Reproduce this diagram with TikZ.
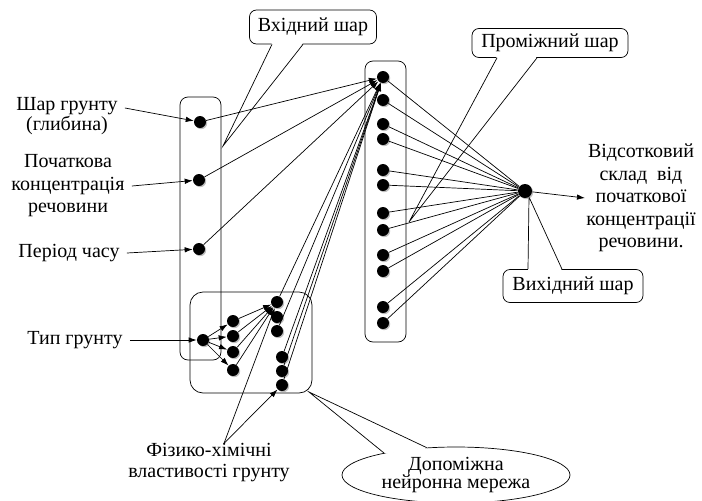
\documentclass[tikz,border=0pt]{standalone}
\usepackage{fontspec}
\setmainfont{Liberation Serif}
\usetikzlibrary{arrows.meta,shadows,shapes.geometric,calc}

\tikzset{
  neuron/.style={circle,fill=black,inner sep=0pt,minimum size=12pt,
    drop shadow={shadow xshift=1.2pt,shadow yshift=-1.2pt,fill=black!50}},
  arr/.style={-{Latex[length=8pt,width=5.5pt]}},
  layer/.style={draw,rounded corners=8pt},
  lbl/.style={align=center,inner xsep=7pt,inner ysep=0pt,font=\fontsize{20}{22.5}\selectfont},
  callout/.style={draw,fill=white,rounded corners=7pt,inner sep=0pt,font=\fontsize{20}{22.5}\selectfont},
}

\begin{document}
\begin{tikzpicture}[x=1pt,y=-1pt,line width=0.7pt]
\useasboundingbox (0,0) rectangle (702,501);

% callouts
\node[callout,minimum width=127pt,minimum height=34pt] (inlay) at (313,27) {Вхідний шар};
\coordinate (intip) at (223,146);
\fill[white] ([xshift=-41pt,yshift=1.5pt]inlay.south) -- (intip) -- ([xshift=-10pt,yshift=1.5pt]inlay.south) -- cycle;
\draw ([xshift=-41pt]inlay.south) -- (intip) -- ([xshift=-10pt]inlay.south);

\node[callout,minimum width=156pt,minimum height=29pt] (midlay) at (550,43) {Проміжний шар};
\coordinate (midtip) at (409,222);
\fill[white] ([xshift=-53pt,yshift=1.5pt]midlay.south) -- (midtip) -- ([xshift=-13pt,yshift=1.5pt]midlay.south) -- cycle;
\draw ([xshift=-53pt]midlay.south) -- (midtip) -- ([xshift=-13pt]midlay.south);

\node[callout,minimum width=140pt,minimum height=33pt] (outlay) at (573,286) {Вихідний шар};
\coordinate (outtip) at (529,197);
\fill[white] ([xshift=-45pt,yshift=-1.5pt]outlay.north) -- (outtip) -- ([xshift=-11pt,yshift=-1.5pt]outlay.north) -- cycle;
\draw ([xshift=-45pt]outlay.north) -- (outtip) -- ([xshift=-11pt]outlay.north);

\node[draw,fill=white,ellipse,minimum width=228pt,minimum height=56pt,inner sep=0pt,
  align=center,font=\fontsize{20}{18}\selectfont] (auxlay) at (456,475) {Допоміжна\\нейронна мережа};
\coordinate (auxtip) at (309,392);
\fill[white] ($(auxlay.163)!0.03!(auxlay.center)$) -- (auxtip) -- ($(auxlay.137)!0.03!(auxlay.center)$) -- cycle;
\draw (auxlay.163) -- (auxtip) -- (auxlay.137);

% layers
\draw[layer] (180,97) rectangle (221,360);
\draw[layer] (365,61) rectangle (406,342);
\draw[layer,rounded corners=13pt] (190,292) rectangle (312,393);

% neurons
\node[neuron] (in1) at (200,122) {};
\node[neuron] (in2) at (199,180) {};
\node[neuron] (in3) at (199,249) {};
\node[neuron] (in4) at (203,340) {};
\foreach \y [count=\i] in {321,336,352,370}
  \node[neuron] (s\i) at (233,\y) {};
\node[neuron] (p1) at (277,302) {};
\node[neuron] (p2) at (277,317) {};
\node[neuron] (p3) at (277,331) {};
\node[neuron] (p4) at (282,357) {};
\node[neuron] (p5) at (282,371) {};
\node[neuron] (p6) at (282,385) {};
\foreach \y [count=\i] in {77,100,124,139,170,185,213,230,255,271,307,323}
  \node[neuron] (h\i) at (383,\y) {};
\node[neuron,minimum size=14pt] (out) at (525,191) {};

% labels
\node[lbl,font=\fontsize{20}{18}\selectfont] (depth) at (67,116) {Шар грунту\\(глибина)};
\node[lbl] (conc) at (68,186) {Початкова\\концентрація\\речовини};
\node[lbl] (time) at (69,253) {Період часу};
\node[lbl] (soil) at (75,340) {Тип грунту};
\node[lbl,font=\fontsize{20}{21}\selectfont] (phys) at (209,463) {Фізико-хімічні\\властивості грунту};
\node[lbl,inner xsep=1pt] (res) at (641,198) {Відсотковий\\склад\ \ від\\початкової\\концентрації\\речовини.};

% connections
\draw[arr] ([yshift=8pt]depth.east) -- (in1);
\draw[arr] (conc.east) -- (in2);
\draw[arr] (time.east) -- (in3);
\draw[arr] (soil.east) -- (in4);
\foreach \i in {1,2,3}
  \draw[arr] (in\i) -- (h1);
\foreach \i in {1,...,4} {
  \draw[arr] (in4) -- (s\i);
  \draw[arr] (s\i) -- (p1);
}
\foreach \i in {1,3,4,5,6}
  \draw[arr] (p\i) -- (h1);
\draw[arr] ([xshift=15pt]phys.north) -- (p1);
\draw[arr] ([xshift=15pt]phys.north) -- (p6);
\foreach \i in {1,...,12}
  \draw (h\i) -- (out);
\draw[arr] (out) -- (res.west);
\end{tikzpicture}
\end{document}
